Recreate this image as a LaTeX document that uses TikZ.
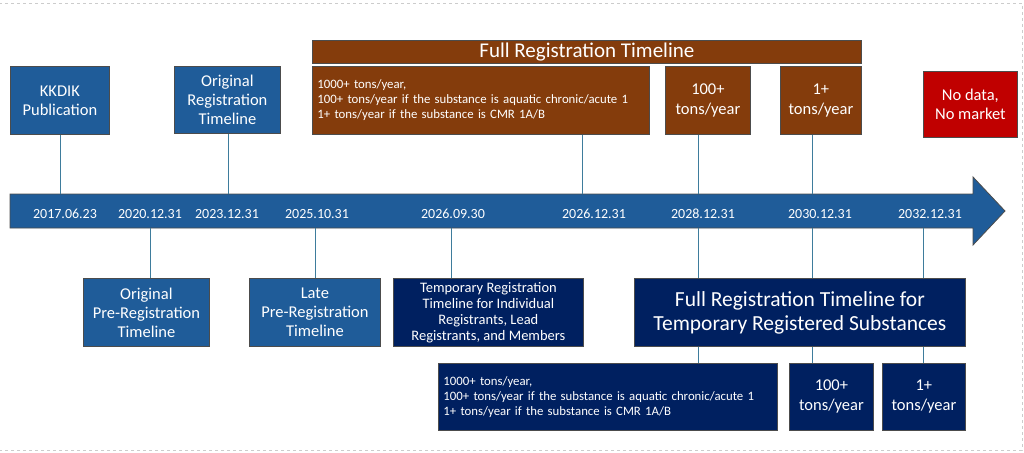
\documentclass[tikz,border=0pt]{standalone}
\usepackage{fontspec}
\setmainfont{Carlito}
\begin{document}
\begin{tikzpicture}[x=1pt,y=-1pt,
  box/.style={draw=black!70,line width=0.8pt,text=white,align=center,inner sep=1pt,anchor=north west},
  mb/.style={box,fill=mblue},
  nb/.style={box,fill=navy},
  bb/.style={box,fill=brown1},
  con/.style={draw=lineblue,line width=0.9pt},
  date/.style={text=white,font=\fontsize{14}{16}\selectfont}]
\definecolor{mblue}{HTML}{1F5C99}
\definecolor{navy}{HTML}{002060}
\definecolor{brown1}{HTML}{843C0C}
\definecolor{nred}{HTML}{C00000}
\definecolor{lineblue}{HTML}{3E7C9C}
\useasboundingbox (0,0) rectangle (1024,452);
\draw[gray!40,dashed,line width=0.6pt] (-1,3) -- (1022,3) -- (1022,450) -- (-1,450);
% arrow
\draw[fill=mblue,draw=black!70,line width=0.8pt] (10,194) -- (973,194) -- (973,177) -- (1005,211) -- (973,245) -- (973,228) -- (10,228) -- cycle;
\foreach \x/\t/\n in {65/2017.06.23/d1,150/2020.12.31/d2,227/2023.12.31/d3,317/2025.10.31/d4,453/2026.09.30/d5,594/2026.12.31/d6,703/2028.12.31/d7,820/2030.12.31/d8,930/2032.12.31/d9}
  \node[date] (\n) at (\x,214) {\t};
\coordinate (atop) at (0,194); \coordinate (abot) at (0,228);
% top boxes
\node[mb,minimum width=99pt,minimum height=68pt,font=\fontsize{16.5}{19}\selectfont] (kk) at (10,66) {KKDIK\\Publication};
\node[mb,minimum width=106pt,minimum height=67pt,font=\fontsize{16.5}{19}\selectfont] (orr) at (174,66) {Original\\Registration\\Timeline};
\node[bb,minimum width=549pt,minimum height=23pt,font=\fontsize{21}{22}\selectfont] (frt) at (312,40) {Full Registration Timeline};
\node[bb,minimum width=337pt,minimum height=68pt,align=left,text width=327pt,inner sep=5pt,font=\fontsize{12.8}{15}\selectfont] (b1) at (312,66) {1000+ tons/year,\\100+ tons/year if the substance is aquatic chronic/acute 1\\1+ tons/year if the substance is CMR 1A/B};
\node[bb,minimum width=85pt,minimum height=68pt,font=\fontsize{16.5}{20}\selectfont] (b2) at (665,66) {100+\\tons/year};
\node[bb,minimum width=81pt,minimum height=68pt,font=\fontsize{16.5}{20}\selectfont] (b3) at (780,66) {1+\\tons/year};
\node[box,fill=nred,minimum width=94pt,minimum height=66pt,font=\fontsize{16.5}{19}\selectfont] (nd) at (923,71) {No data,\\No market};
% bottom boxes
\node[mb,minimum width=126pt,minimum height=68pt,font=\fontsize{16.5}{19}\selectfont] (opr) at (83,278) {Original\\Pre-Registration\\Timeline};
\node[mb,minimum width=131pt,minimum height=68pt,font=\fontsize{16.5}{19}\selectfont] (lpr) at (249,278) {Late\\Pre-Registration\\Timeline};
\node[nb,minimum width=190pt,minimum height=68pt,font=\fontsize{14.5}{16}\selectfont] (tmp) at (393,278) {Temporary Registration\\Timeline for Individual\\Registrants, Lead\\Registrants, and Members};
\node[nb,minimum width=331pt,minimum height=68pt,font=\fontsize{21.5}{24}\selectfont] (ft) at (634,278) {Full Registration Timeline for\\Temporary Registered Substances};
\node[nb,minimum width=339pt,minimum height=67pt,align=left,text width=329pt,inner sep=5pt,font=\fontsize{12.8}{15}\selectfont] (c1) at (438,363) {1000+ tons/year,\\100+ tons/year if the substance is aquatic chronic/acute 1\\1+ tons/year if the substance is CMR 1A/B};
\node[nb,minimum width=84pt,minimum height=67pt,font=\fontsize{16.5}{20}\selectfont] (c2) at (789,363) {100+\\tons/year};
\node[nb,minimum width=83pt,minimum height=67pt,font=\fontsize{16.5}{20}\selectfont] (c3) at (882,363) {1+\\tons/year};
% connectors
\draw[con] (kk.south -| 60,0) -- (atop -| 60,0);
\draw[con] (orr.south -| 228,0) -- (atop -| 228,0);
\draw[con] (b1.south -| 582,0) -- (atop -| 582,0);
\draw[con] (b2.south -| 698,0) -- (atop -| 698,0);
\draw[con] (b3.south -| 812,0) -- (atop -| 812,0);
\draw[con] (abot -| 150,0) -- (opr.north -| 150,0);
\draw[con] (abot -| 315,0) -- (lpr.north -| 315,0);
\draw[con] (abot -| 451,0) -- (tmp.north -| 451,0);
\draw[con] (abot -| 698,0) -- (ft.north -| 698,0);
\draw[con] (abot -| 812,0) -- (ft.north -| 812,0);
\draw[con] (abot -| 923,0) -- (ft.north -| 923,0);
\draw[con] (ft.south -| 698,0) -- (c1.north -| 698,0);
\draw[con] (ft.south -| 812,0) -- (c2.north -| 812,0);
\draw[con] (ft.south -| 923,0) -- (c3.north -| 923,0);
\end{tikzpicture}
\end{document}
